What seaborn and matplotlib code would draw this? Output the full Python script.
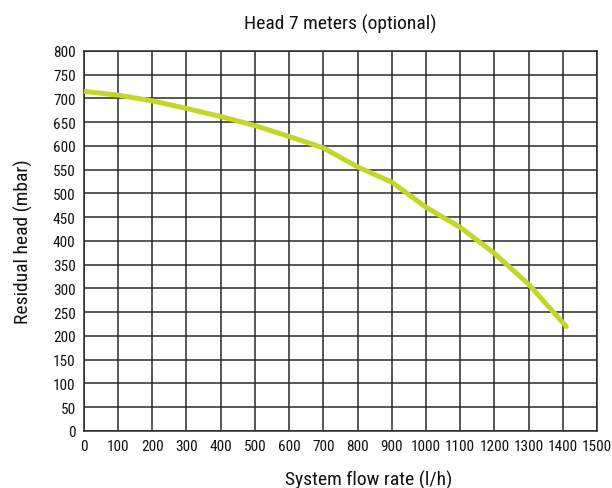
import matplotlib.pyplot as plt
import seaborn as sns
import pandas as pd

# Данные кривой
flow = [0, 100, 200, 300, 400, 500, 600, 700, 800, 900, 1000, 1100, 1200, 1300, 1410]
head = [715, 707, 695, 679, 662, 643, 620, 596, 556, 524, 471, 429, 374, 309, 220]
x_ticks = list(range(0, 1501, 100))
y_ticks = list(range(0, 801, 50))

df = pd.DataFrame({'flow': flow, 'head': head})

sns.set_style('white')
plt.rcParams['font.family'] = ['Roboto Condensed', 'Liberation Sans Narrow', 'DejaVu Sans']
plt.rcParams['font.stretch'] = 'condensed'
plt.rcParams['text.color'] = '#111111'
plt.rcParams['xtick.color'] = '#111111'
plt.rcParams['ytick.color'] = '#111111'
plt.rcParams['axes.labelcolor'] = '#111111'

fig = plt.figure(figsize=(6.12, 4.89), dpi=100)
ax = fig.add_axes([0.137, 0.1166, 0.8385, 0.7771])

sns.lineplot(data=df, x='flow', y='head', ax=ax, color='#c3d62a', linewidth=3.6,
             solid_capstyle='round', zorder=3)

ax.set_xlim(0, 1500)
ax.set_ylim(0, 800)
ax.set_xticks(x_ticks)
ax.set_yticks(y_ticks)
ax.tick_params(labelsize=11, length=0, pad=6)
ax.grid(True, color='#2a2a2a', linewidth=1.1)
for s in ax.spines.values():
    s.set_color('#2a2a2a')
    s.set_linewidth(1.1)

ax.set_title('Head 7 meters (optional)', fontsize=14, pad=16)
ax.set_xlabel('System flow rate (l/h)', fontsize=14, labelpad=12)
ax.xaxis.label.set_x(0.554)
ax.set_ylabel('Residual head (mbar)', fontsize=14, labelpad=14)

plt.savefig('out.png', dpi=100)
